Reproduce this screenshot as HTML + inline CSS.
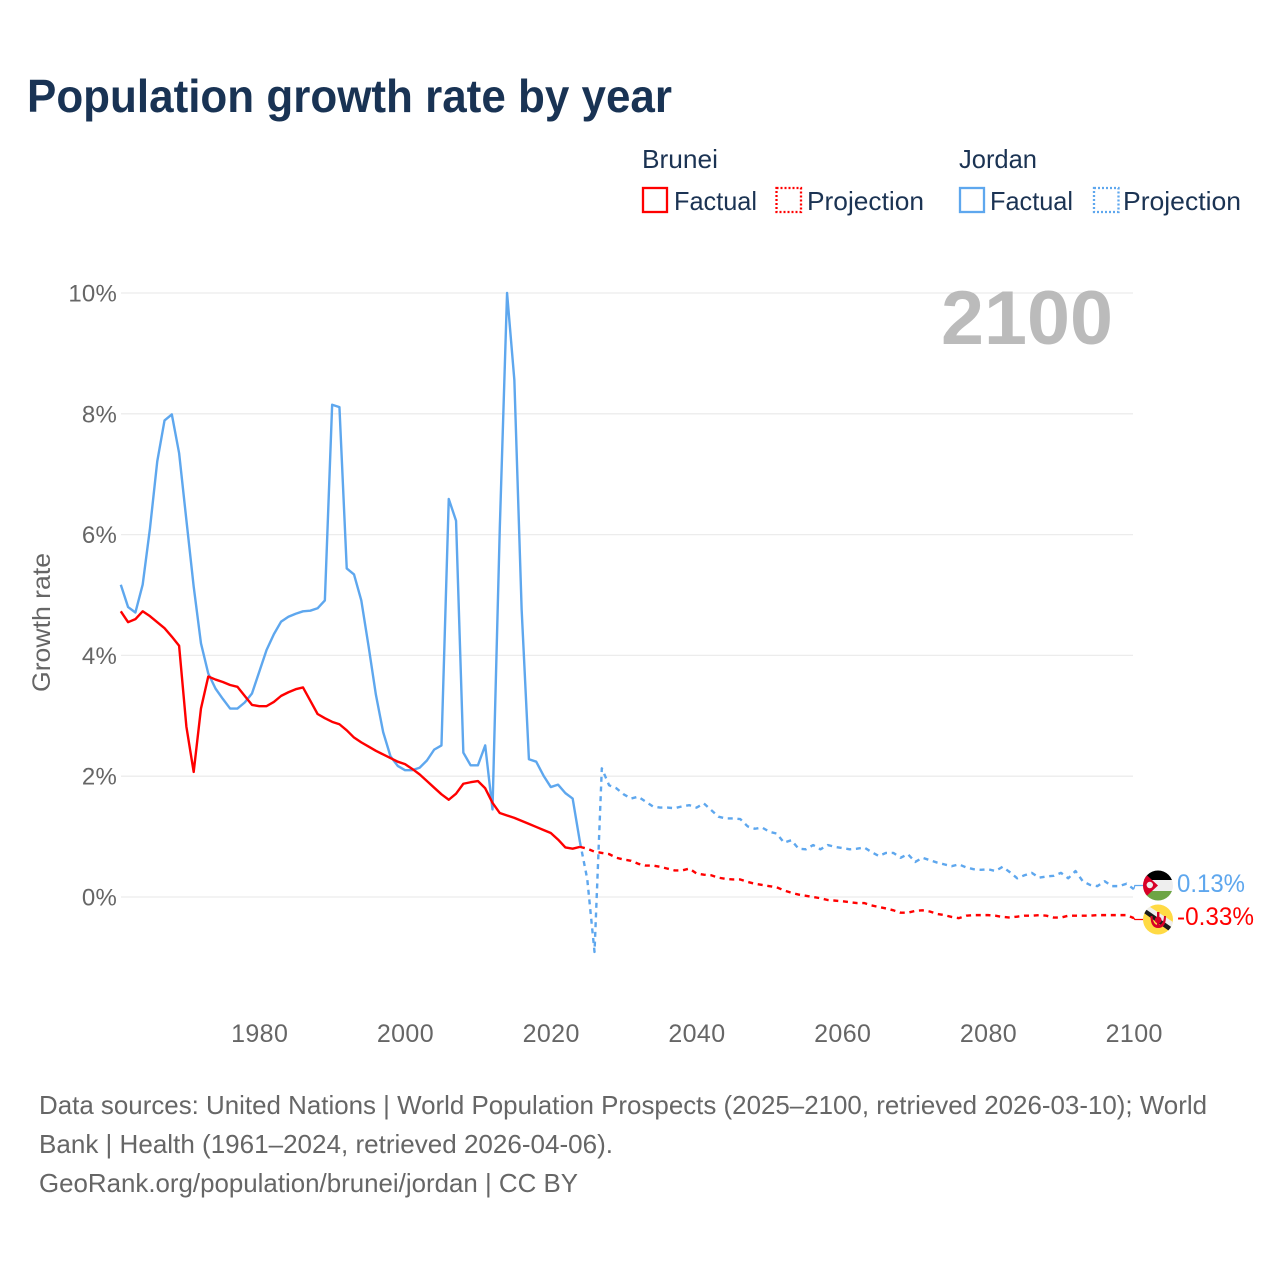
<!DOCTYPE html>
<html lang="en">
<head>
<meta charset="utf-8">
<title>Population growth rate by year</title>
<style>
html,body{margin:0;padding:0;background:#fff;width:1280px;height:1280px;overflow:hidden}
svg{display:block}
text{font-family:"Liberation Sans",Arial,sans-serif}
.tick{font-size:25px;fill:#666;letter-spacing:.4px}
.ytick{font-size:24px;fill:#666;letter-spacing:.2px}
.legend{font-size:26px;fill:#1b3353}
.foot{font-size:26px;fill:#666}
</style>
</head>
<body>
<svg id="chart" width="1280" height="1280" viewBox="0 0 1280 1280" xmlns="http://www.w3.org/2000/svg">
  <defs>
    <clipPath id="clip-jordan"><circle cx="1158" cy="885.5" r="15"/></clipPath>
    <clipPath id="clip-brunei"><circle cx="1158" cy="919.5" r="15"/></clipPath>
  </defs>

  <text x="27" y="112" font-size="46" font-weight="700" fill="#193354" textLength="645" lengthAdjust="spacingAndGlyphs">Population growth rate by year</text>

  <g>
    <text class="legend" x="642" y="168" textLength="76" lengthAdjust="spacingAndGlyphs">Brunei</text>
    <text class="legend" x="959" y="168" textLength="78" lengthAdjust="spacingAndGlyphs">Jordan</text>
    <rect x="643" y="188" width="24" height="24" fill="none" stroke="#ff0000" stroke-width="2.3"/>
    <text class="legend" x="674" y="210" textLength="83" lengthAdjust="spacingAndGlyphs">Factual</text>
    <rect x="776.5" y="188" width="24.5" height="24" fill="none" stroke="#ff0000" stroke-width="2.3" stroke-dasharray="2 2"/>
    <text class="legend" x="807" y="210" textLength="117" lengthAdjust="spacingAndGlyphs">Projection</text>
    <rect x="960" y="188" width="24" height="24" fill="none" stroke="#5ea7ee" stroke-width="2.3"/>
    <text class="legend" x="990" y="210" textLength="83" lengthAdjust="spacingAndGlyphs">Factual</text>
    <rect x="1094" y="188" width="24.5" height="24" fill="none" stroke="#5ea7ee" stroke-width="2.3" stroke-dasharray="2 2"/>
    <text class="legend" x="1123" y="210" textLength="118" lengthAdjust="spacingAndGlyphs">Projection</text>
  </g>

  <g id="grid"></g>
  <g id="y-labels"></g>
  <g id="x-labels"></g>

  <text class="tick" transform="translate(50,692) rotate(-90)" x="0" y="0" textLength="139" lengthAdjust="spacingAndGlyphs" style="letter-spacing:0">Growth rate</text>

  <text x="941" y="344" font-size="76" font-weight="700" fill="#bbbbbb" textLength="172" lengthAdjust="spacingAndGlyphs">2100</text>

  <g id="series"></g>

  <g clip-path="url(#clip-jordan)">
    <rect x="1143" y="870" width="30" height="31" fill="#eeeeee"/>
    <rect x="1143" y="870" width="30" height="10" fill="#000000"/>
    <rect x="1143" y="891" width="30" height="11" fill="#6da544"/>
    <polygon points="1145,873.5 1158,885.5 1145,897.5 1142,897.5 1142,873.5" fill="#d80027"/>
    <circle cx="1149.8" cy="885" r="3.2" fill="#eeeeee"/>
  </g>
  <g clip-path="url(#clip-brunei)">
    <rect x="1143" y="904" width="30" height="31" fill="#ffda44"/>
    <polygon points="1143,909 1147,905 1176,924 1173,930" fill="#eeeeee"/>
    <polygon points="1141,911 1144,908 1175,929.5 1172,933" fill="#1a1a1a"/>
    <rect x="1157" y="912" width="2.4" height="15" fill="#d80027"/>
    <circle cx="1158.2" cy="920" r="3.4" fill="#d80027"/>
    <path d="M1152.5 916 Q1153 925 1158.2 925 Q1163.5 925 1164 916 L1166 916 Q1166 928 1158.2 928 Q1150.5 928 1150.5 916 Z" fill="#d80027"/>
  </g>

  <text x="1177" y="892" font-size="25" fill="#5ea7ee" textLength="68" lengthAdjust="spacingAndGlyphs">0.13%</text>
  <text x="1177" y="925" font-size="25" fill="#ff0000" textLength="77" lengthAdjust="spacingAndGlyphs">-0.33%</text>

  <g>
    <text class="foot" x="39" y="1114" textLength="1168" lengthAdjust="spacingAndGlyphs">Data sources: United Nations | World Population Prospects (2025–2100, retrieved 2026-03-10); World</text>
    <text class="foot" x="39" y="1153" textLength="574" lengthAdjust="spacingAndGlyphs">Bank | Health (1961–2024, retrieved 2026-04-06).</text>
    <text class="foot" x="39" y="1192" textLength="539" lengthAdjust="spacingAndGlyphs">GeoRank.org/population/brunei/jordan | CC BY</text>
  </g>
</svg>
<script>
const factualStartYear = 1961;
const projectionStartYear = 2024;
const yTicks = [0, 2, 4, 6, 8, 10];
const xTicks = [1980, 2000, 2020, 2040, 2060, 2080, 2100];

const bruneiFactual = [
  4.73,4.55,4.60,4.73,4.65,4.55,4.45,4.31,4.16,2.82,
  2.07,3.12,3.65,3.60,3.56,3.51,3.48,3.33,3.18,3.16,
  3.16,3.23,3.33,3.39,3.44,3.47,3.25,3.03,2.96,2.90,
  2.86,2.76,2.64,2.56,2.49,2.42,2.36,2.30,2.24,2.20,
  2.12,2.03,1.92,1.81,1.70,1.61,1.71,1.875,1.90,1.92,
  1.80,1.56,1.39,1.35,1.31,1.26,1.21,1.16,1.11,1.06,
  0.95,0.82,0.80,0.83
];
const jordanFactual = [
  5.17,4.80,4.71,5.17,6.10,7.21,7.89,7.99,7.35,6.24,
  5.14,4.20,3.70,3.45,3.28,3.12,3.12,3.22,3.37,3.73,
  4.09,4.35,4.56,4.64,4.69,4.73,4.74,4.78,4.91,8.15,
  8.11,5.44,5.34,4.91,4.15,3.35,2.73,2.33,2.17,2.10,
  2.10,2.14,2.26,2.44,2.51,6.59,6.23,2.39,2.18,2.18,
  2.51,1.45,6.10,10.0,8.56,4.76,2.28,2.24,2.01,1.82,
  1.86,1.72,1.63,0.91
];
const bruneiProjection = [
  0.83,0.80,0.75,0.73,0.71,0.65,0.62,0.60,0.55,0.52,
  0.52,0.50,0.47,0.44,0.44,0.47,0.39,0.37,0.36,0.32,
  0.30,0.29,0.29,0.25,0.22,0.20,0.18,0.16,0.11,0.07,
  0.04,0.02,0.00,-0.02,-0.05,-0.06,-0.07,-0.085,-0.10,-0.10,
  -0.14,-0.165,-0.19,-0.22,-0.26,-0.26,-0.23,-0.22,-0.24,-0.28,
  -0.30,-0.33,-0.35,-0.31,-0.30,-0.30,-0.30,-0.31,-0.33,-0.34,
  -0.325,-0.31,-0.31,-0.30,-0.31,-0.34,-0.34,-0.31,-0.31,-0.31,
  -0.31,-0.30,-0.30,-0.30,-0.30,-0.30,-0.35
];
const jordanProjection = [
  0.91,0.30,-0.91,2.13,1.85,1.80,1.70,1.63,1.66,1.58,
  1.50,1.48,1.48,1.47,1.50,1.52,1.48,1.55,1.44,1.33,
  1.30,1.30,1.29,1.17,1.13,1.15,1.08,1.05,0.90,0.94,
  0.80,0.79,0.86,0.79,0.86,0.83,0.81,0.79,0.80,0.82,
  0.745,0.68,0.73,0.73,0.65,0.71,0.58,0.65,0.61,0.57,
  0.54,0.51,0.54,0.49,0.46,0.45,0.46,0.43,0.50,0.41,
  0.31,0.36,0.40,0.32,0.34,0.35,0.40,0.31,0.43,0.26,
  0.20,0.18,0.26,0.18,0.18,0.22,0.13
];

const NS = 'http://www.w3.org/2000/svg';
function xScale(year) { return 120.8 + (year - 1961) * 7.288; }
function yScale(value) { return 897 - value * 60.4; }
function linePath(values, startYear) {
  return values.map(function (v, i) {
    return (i ? 'L' : 'M') + xScale(startYear + i).toFixed(2) + ' ' + yScale(v).toFixed(2);
  }).join('');
}

const gridGroup = document.getElementById('grid');
const yLabelGroup = document.getElementById('y-labels');
const xLabelGroup = document.getElementById('x-labels');
const seriesGroup = document.getElementById('series');

yTicks.forEach(function (t) {
  const line = document.createElementNS(NS, 'line');
  
  
  line.setAttribute('x1', 121);
  line.setAttribute('x2', 1133);
  line.setAttribute('y1', yScale(t));
  line.setAttribute('y2', yScale(t));
  line.setAttribute('stroke', '#ececec');
  line.setAttribute('stroke-width', '1.3');
  gridGroup.appendChild(line);

  const label = document.createElementNS(NS, 'text');
  
  
  label.setAttribute('class', 'ytick');
  label.setAttribute('x', 117);
  label.setAttribute('y', yScale(t) + 8.5);
  label.setAttribute('text-anchor', 'end');
  label.textContent = t + '%';
  yLabelGroup.appendChild(label);
});

xTicks.forEach(function (t) {
  const label = document.createElementNS(NS, 'text');
  
  
  label.setAttribute('class', 'tick');
  label.setAttribute('x', xScale(t) + 0.4);
  label.setAttribute('y', 1042);
  label.setAttribute('text-anchor', 'middle');
  label.textContent = t;
  xLabelGroup.appendChild(label);
});

function addSeries(name, values, startYear, color, dashed) {
  const path = document.createElementNS(NS, 'path');
  
  
  path.setAttribute('d', linePath(values, startYear));
  path.setAttribute('fill', 'none');
  path.setAttribute('stroke', color);
  path.setAttribute('stroke-width', '2.4');
  path.setAttribute('stroke-linejoin', 'round');
  if (dashed) path.setAttribute('stroke-dasharray', '5 4.7');
  seriesGroup.appendChild(path);
}
addSeries('jordan-projection-line', jordanProjection, projectionStartYear, '#5ea7ee', true);
addSeries('brunei-projection-line', bruneiProjection, projectionStartYear, '#ff0000', true);
addSeries('jordan-factual-line', jordanFactual, factualStartYear, '#5ea7ee', false);
addSeries('brunei-factual-line', bruneiFactual, factualStartYear, '#ff0000', false);

function addConnector(name, value, flagY, color) {
  const line = document.createElementNS(NS, 'path');
  
  
  line.setAttribute('d', 'M' + xScale(2100) + ' ' + yScale(value) + 'L' + (xScale(2100) + 1) + ' ' + flagY + 'L' + (xScale(2100) + 10) + ' ' + flagY);
  line.setAttribute('fill', 'none');
  line.setAttribute('stroke', color);
  line.setAttribute('stroke-width', '1.2');
  seriesGroup.appendChild(line);
}
addConnector('jordan-end-connector', jordanProjection[jordanProjection.length - 1], 885.5, '#5ea7ee');
addConnector('brunei-end-connector', bruneiProjection[bruneiProjection.length - 1], 919.5, '#ff0000');
</script>
</body>
</html>
